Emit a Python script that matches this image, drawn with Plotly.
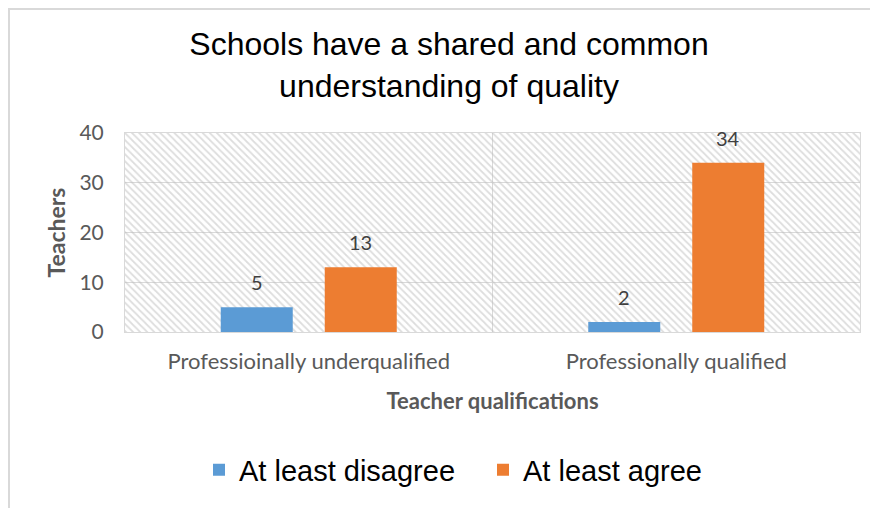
import plotly.graph_objects as go

categories = ["Professioinally underqualified", "Professionally qualified"]
series_names = ["At least disagree", "At least agree"]
disagree = [5, 2]
agree = [13, 34]
y_ticks = [0, 10, 20, 30, 40]
colors = ["#5B9BD5", "#ED7D31"]

# the page adds an 8px body margin, so the figure is sized to fit the window
W, H = 870, 500
L, R, T, B = 117, 18, 125, 176
pw, ph = W - L - R, H - T - B
BARGAP, GROUPGAP = 0.434, 0.3077

fig = go.Figure()

# hatched plot-area background on hidden base axis
fig.add_trace(go.Bar(
    x=[0.5], y=[y_ticks[-1]], width=[1], xaxis="x", yaxis="y",
    marker=dict(color="rgba(0,0,0,0)", line=dict(width=0),
                pattern=dict(shape="\\", fgcolor="#bcbcbc", bgcolor="rgba(0,0,0,0)",
                             size=5, solidity=0.35)),
    hoverinfo="skip", showlegend=False))

series = [disagree, agree]
for name, vals, col in zip(series_names, series, colors):
    fig.add_trace(go.Bar(
        name=name, x=categories, y=vals, xaxis="x2", yaxis="y",
        marker=dict(color=col, line=dict(width=0))))

# value labels above bars (offset from the group layout)
cat_px = pw / len(categories)
slot_px = cat_px * (1 - BARGAP) / len(series)
annotations = []
for i, vals in enumerate(series):
    shift = (i - (len(series) - 1) / 2) * slot_px
    for c, v in zip(categories, vals):
        annotations.append(dict(
            x=c, y=v, xref="x2", yref="y", text=str(v), showarrow=False,
            xshift=shift, yanchor="bottom", yshift=11,
            font=dict(family="Lato", size=20, color="#404040")))

fig.update_layout(
    width=W, height=H,
    margin=dict(l=L, r=R, t=T, b=B),
    paper_bgcolor="white", plot_bgcolor="white",
    barmode="group", bargap=BARGAP, bargroupgap=GROUPGAP,
    title=dict(text="Schools have a shared and common<br>understanding of quality",
               x=(449 - 8) / W, xref="container", xanchor="center",
               y=1 - 47 / H, yref="container", yanchor="top",
               font=dict(family="Liberation Sans", size=32, color="#000000")),
    xaxis=dict(range=[0, 1], visible=False, fixedrange=True),
    xaxis2=dict(overlaying="x", type="category", side="bottom",
                showgrid=True, gridcolor="#D9D9D9", gridwidth=1,
                tickson="boundaries", ticks="", ticklabelstandoff=10,
                showline=True, linecolor="#D9D9D9", mirror=True,
                tickfont=dict(family="Lato", size=22, color="#595959"),
                title=dict(text="<b>Teacher qualifications</b>", standoff=20,
                           font=dict(family="Lato", size=22, color="#595959"))),
    yaxis=dict(range=[y_ticks[0], y_ticks[-1]], tickvals=y_ticks,
               showgrid=True, gridcolor="#D9D9D9", gridwidth=1, zeroline=False,
               showline=True, linecolor="#D9D9D9", mirror=True, ticks="",
               ticklabelstandoff=16,
               tickfont=dict(family="Lato", size=21, color="#595959"),
               title=dict(text="<b>Teachers</b>", standoff=7,
                          font=dict(family="Lato", size=23, color="#595959"))),
    legend=dict(orientation="h", xref="container", x=191 / W, xanchor="left",
                yref="container", y=1 - 462 / H, yanchor="middle",
                font=dict(family="Liberation Sans", size=29, color="#000000"),
                itemwidth=30, traceorder="normal",
                entrywidth=239, entrywidthmode="pixels"),
    annotations=annotations,
    shapes=[dict(type="rect", xref="paper", yref="paper",
                 x0=(1 - L) / pw, x1=(W + 20 - L) / pw,
                 y0=-(H + 20 - (T + ph)) / ph, y1=(T + ph - 1) / ph,
                 line=dict(color="#D9D9D9", width=2), fillcolor="rgba(0,0,0,0)",
                 layer="below")],
)

fig.write_html("out.html")
